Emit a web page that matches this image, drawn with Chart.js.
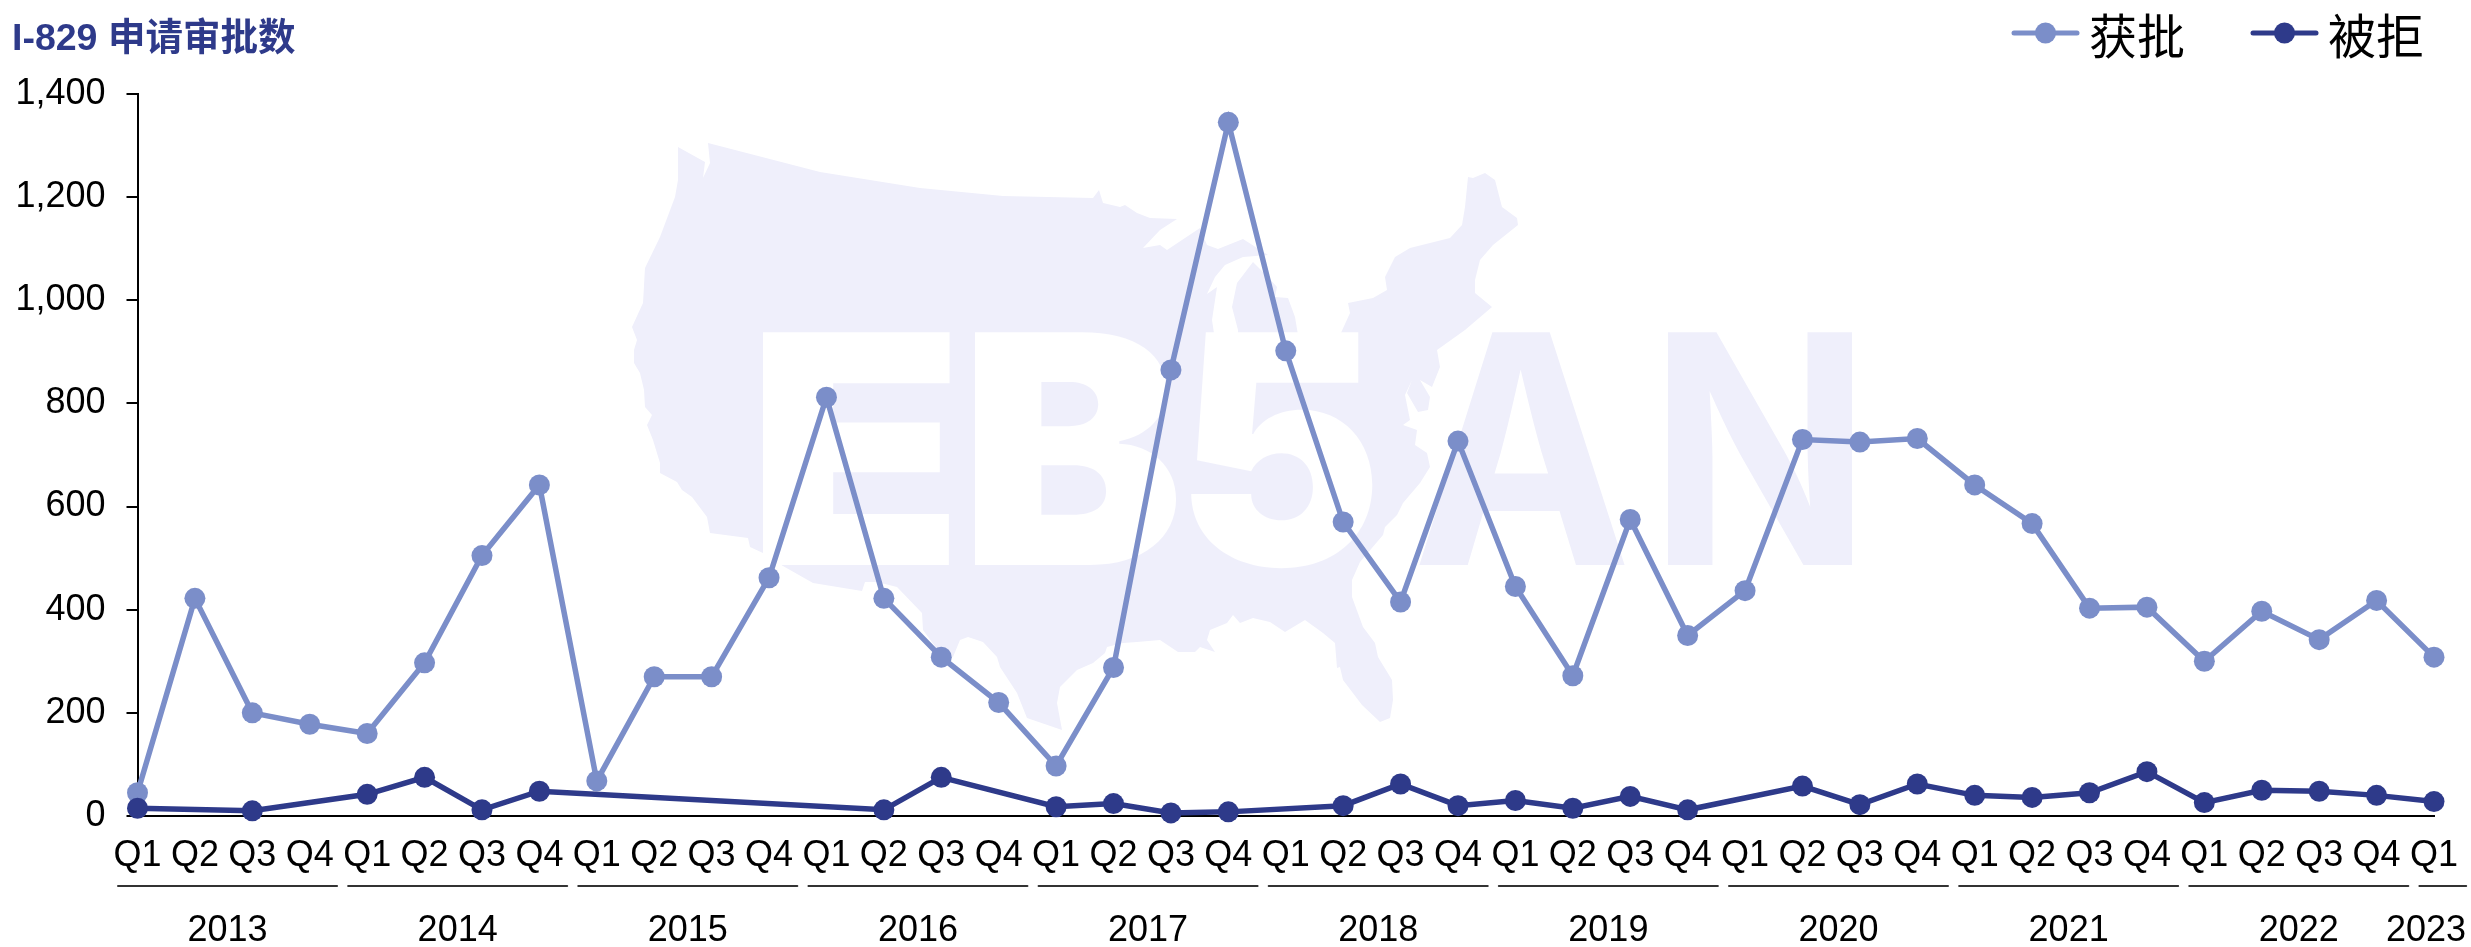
<!DOCTYPE html>
<html lang="zh">

<head>
  <meta charset="UTF-8">
  <title>I-829 申请审批数</title>
  <script src="https://cdn.jsdelivr.net/npm/chart.js"></script>
  <style>
    html, body { margin: 0; padding: 0; background: #fff; }
    #wrap { width: 2471px; height: 947px; }
  </style>
</head>

<body>
  <div id="wrap"><canvas id="grafico" width="2471" height="947"></canvas></div>
  <script>
    const chartTitle = 'I-829 申请审批数';
    const years = ['2013', '2014', '2015', '2016', '2017', '2018', '2019', '2020', '2021', '2022', '2023'];
    const quartersPerYear = [4, 4, 4, 4, 4, 4, 4, 4, 4, 4, 1];
    const quarters = [
      'Q1', 'Q2', 'Q3', 'Q4', 'Q1', 'Q2', 'Q3', 'Q4', 'Q1', 'Q2', 'Q3', 'Q4',
      'Q1', 'Q2', 'Q3', 'Q4', 'Q1', 'Q2', 'Q3', 'Q4', 'Q1', 'Q2', 'Q3', 'Q4',
      'Q1', 'Q2', 'Q3', 'Q4', 'Q1', 'Q2', 'Q3', 'Q4', 'Q1', 'Q2', 'Q3', 'Q4',
      'Q1', 'Q2', 'Q3', 'Q4', 'Q1'
    ];
    const approved = [
      45, 422, 200, 178,
      160, 297, 505, 642,
      68, 270, 270, 462,
      812, 422, 308, 220,
      97, 288, 865, 1345,
      902, 570, 415, 727,
      445, 272, 575, 350,
      437, 730, 725, 732,
      642, 567, 403, 405,
      300, 397, 342, 418,
      308
    ];
    const denied = [
      15, null, 10, null,
      42, 75, 12, 48,
      null, null, null, null,
      null, 12, 75, null,
      18, 24, 6, 8,
      null, 20, 62, 20,
      30, 15, 38, 12,
      null, 58, 22, 62,
      40, 36, 45, 86,
      26, 50, 48, 40,
      28
    ];

    const corApproved = '#7B8EC9';
    const corDenied = '#2E3A8A';
    const corWatermark = '#EFEFFB';
    const fonteLatin = '"Liberation Sans", Arial, sans-serif';
    const fonteCjk = '"Liberation Sans", "Noto Sans CJK SC", sans-serif';

    // contorno do mapa da marca d'agua (pixels da tela)
    const usOutline = [
      [678, 147], [705, 162], [703, 178], [710, 163], [708, 143], [820, 172], [920, 188], [1003, 196], [1093, 198],
      [1099, 190], [1103, 203], [1120, 207], [1125, 205], [1137, 213], [1150, 218], [1177, 219], [1160, 230],
      [1143, 248], [1160, 245], [1167, 250], [1200, 228], [1207, 245], [1218, 249], [1243, 239], [1268, 255],
      [1243, 257], [1225, 265], [1215, 277], [1207, 294], [1217, 287], [1212, 320], [1215, 340], [1238, 340],
      [1238, 330], [1232, 307], [1237, 283], [1253, 262], [1268, 277], [1277, 287], [1275, 297], [1288, 298],
      [1295, 317], [1298, 335], [1340, 335], [1350, 313], [1348, 303], [1373, 298], [1387, 290], [1385, 277],
      [1395, 257], [1410, 248], [1450, 238], [1462, 225], [1465, 207], [1468, 177], [1473, 178], [1485, 173],
      [1495, 180], [1502, 207], [1517, 218], [1518, 225], [1503, 237], [1493, 245], [1480, 260], [1475, 280],
      [1475, 293], [1492, 307], [1465, 330], [1437, 350], [1440, 367], [1432, 387], [1420, 380], [1430, 397],
      [1428, 410], [1418, 412], [1407, 393], [1412, 380], [1405, 395], [1410, 420], [1403, 425], [1417, 430],
      [1415, 445], [1427, 453], [1430, 467], [1420, 483], [1403, 503], [1397, 515], [1385, 527], [1383, 535],
      [1360, 562], [1352, 580], [1352, 597], [1363, 627], [1375, 643], [1378, 657], [1392, 680], [1393, 700],
      [1390, 718], [1380, 722], [1362, 705], [1343, 680], [1340, 667], [1337, 668], [1335, 643], [1323, 633],
      [1305, 620], [1285, 632], [1270, 622], [1253, 618], [1240, 623], [1233, 615], [1227, 623], [1210, 630],
      [1207, 640], [1215, 652], [1200, 647], [1195, 652], [1178, 652], [1160, 640], [1137, 642], [1123, 643],
      [1107, 647], [1105, 653], [1093, 663], [1077, 670], [1060, 687], [1057, 703], [1062, 730], [1027, 718],
      [1017, 693], [1000, 667], [997, 657], [983, 642], [968, 637], [960, 640], [953, 657], [940, 653], [923, 630],
      [922, 613], [897, 587], [877, 582], [865, 582], [862, 591], [813, 583], [783, 566], [763, 553], [750, 547],
      [748, 538], [710, 533], [707, 517], [692, 497], [682, 490], [677, 482], [660, 473], [660, 463], [653, 440],
      [647, 425], [652, 415], [645, 407], [644, 390], [640, 373], [634, 363], [634, 350], [637, 340], [632, 327],
      [643, 303], [645, 268], [660, 237], [675, 197], [678, 180]
    ];
    const letrasMapa = [['E', 763, 952], ['B', 975, 1180], ['5', 1190, 1375]];
    const letrasFora = [['A', 1417, 1628], ['N', 1667, 1854]];

    function desenharLetra(ctx, letra, x0, x1, peso) {
      const topo = 330, base = 565;
      ctx.font = peso + ' 340px Inter, "Liberation Sans", sans-serif';
      ctx.textAlign = 'left';
      ctx.textBaseline = 'alphabetic';
      const m = ctx.measureText(letra);
      const w = m.actualBoundingBoxRight + m.actualBoundingBoxLeft;
      const h = ctx.measureText('E').actualBoundingBoxAscent;
      ctx.save();
      ctx.translate(x0, base);
      ctx.scale((x1 - x0) / w, (base - topo) / h);
      ctx.fillText(letra, m.actualBoundingBoxLeft, 0);
      ctx.restore();
    }

    const watermark = {
      id: 'watermark',
      beforeDraw(chart) {
        const ctx = chart.ctx;
        ctx.save();
        ctx.fillStyle = corWatermark;
        ctx.beginPath();
        usOutline.forEach((p, i) => i ? ctx.lineTo(p[0], p[1]) : ctx.moveTo(p[0], p[1]));
        ctx.closePath();
        ctx.fill();
        ctx.globalCompositeOperation = 'destination-out';
        ctx.fillStyle = '#000';
        letrasMapa.forEach(l => desenharLetra(ctx, l[0], l[1], l[2], 900));
        ctx.globalCompositeOperation = 'source-over';
        ctx.fillStyle = corWatermark;
        letrasFora.forEach(l => desenharLetra(ctx, l[0], l[1], l[2], 700));
        ctx.restore();
      }
    };

    const anotacoes = {
      id: 'anotacoes',
      afterDraw(chart) {
        const ctx = chart.ctx;
        const x = chart.scales.x;
        ctx.save();

        // titulo
        ctx.fillStyle = corDenied;
        ctx.font = 'bold 37.5px ' + fonteCjk;
        ctx.textAlign = 'left';
        ctx.textBaseline = 'middle';
        ctx.fillText(chartTitle, 12, 40);

        // legenda
        chart.data.datasets.forEach((ds, i) => {
          const x0 = i === 0 ? 2014 : 2253;
          ctx.strokeStyle = ds.borderColor;
          ctx.lineWidth = 5;
          ctx.lineCap = 'round';
          ctx.beginPath();
          ctx.moveTo(x0, 33);
          ctx.lineTo(x0 + 63, 33);
          ctx.stroke();
          ctx.fillStyle = ds.backgroundColor;
          ctx.beginPath();
          ctx.arc(x0 + 31.5, 33, 10.5, 0, Math.PI * 2);
          ctx.fill();
          ctx.fillStyle = '#000';
          ctx.font = '48px "Noto Sans CJK SC", sans-serif';
          ctx.textAlign = 'left';
          ctx.textBaseline = 'middle';
          ctx.fillText(ds.label, x0 + 75, 36);
        });

        // grupos de anos abaixo dos trimestres
        let inicio = 0;
        ctx.font = '36px ' + fonteLatin;
        ctx.textAlign = 'center';
        ctx.textBaseline = 'middle';
        years.forEach((ano, g) => {
          const fim = inicio + quartersPerYear[g] - 1;
          const a = x.getPixelForValue(inicio) - 19.5 + 0.49 * g;
          const b = x.getPixelForValue(fim) + 27.3 + 0.49 * g;
          ctx.strokeStyle = '#333';
          ctx.lineWidth = 2;
          ctx.beginPath();
          ctx.moveTo(a, 886);
          ctx.lineTo(b, 886);
          ctx.stroke();
          const w = ctx.measureText(ano).width;
          ctx.fillStyle = '#000';
          ctx.fillText(ano, Math.min((a + b) / 2, chart.width - 5 - w / 2), 931);
          inicio = fim + 1;
        });
        ctx.restore();
      }
    };

    new Chart(document.getElementById('grafico').getContext('2d'), {
      type: 'line',
      data: {
        labels: quarters,
        datasets: [
          {
            label: '获批',
            data: approved,
            borderColor: corApproved,
            backgroundColor: corApproved,
            borderWidth: 5.5,
            pointRadius: 10.5,
            pointBorderWidth: 0,
            tension: 0,
            clip: false,
            order: 2
          },
          {
            label: '被拒',
            data: denied,
            borderColor: corDenied,
            backgroundColor: corDenied,
            borderWidth: 5.5,
            pointRadius: 10.5,
            pointBorderWidth: 0,
            tension: 0,
            spanGaps: true,
            clip: false,
            order: 1
          }
        ]
      },
      options: {
        responsive: false,
        animation: false,
        layout: { padding: { top: 94, right: 37, left: 0, bottom: 0 } },
        plugins: { legend: { display: false }, title: { display: false }, tooltip: { enabled: false } },
        scales: {
          x: {
            afterFit: s => { s.height = 131; },
            border: { color: '#000', width: 2 },
            // tick invisivel no lugar de ticks.padding, que empurra a borda direita da area
            grid: { drawOnChartArea: false, drawTicks: true, tickLength: 18, tickColor: 'rgba(0,0,0,0)' },
            ticks: {
              autoSkip: false,
              maxRotation: 0,
              padding: 0,
              color: '#000',
              font: { family: fonteLatin, size: 36 }
            }
          },
          y: {
            min: 0,
            max: 1400,
            afterFit: s => { s.width = 137.5; },
            border: { color: '#000', width: 2 },
            grid: { drawOnChartArea: false, color: '#000', lineWidth: 2, tickLength: 11 },
            ticks: {
              stepSize: 200,
              padding: 21,
              color: '#000',
              font: { family: fonteLatin, size: 36 },
              callback: v => v.toLocaleString('en-US')
            }
          }
        }
      },
      plugins: [watermark, anotacoes]
    });
  </script>
</body>

</html>
